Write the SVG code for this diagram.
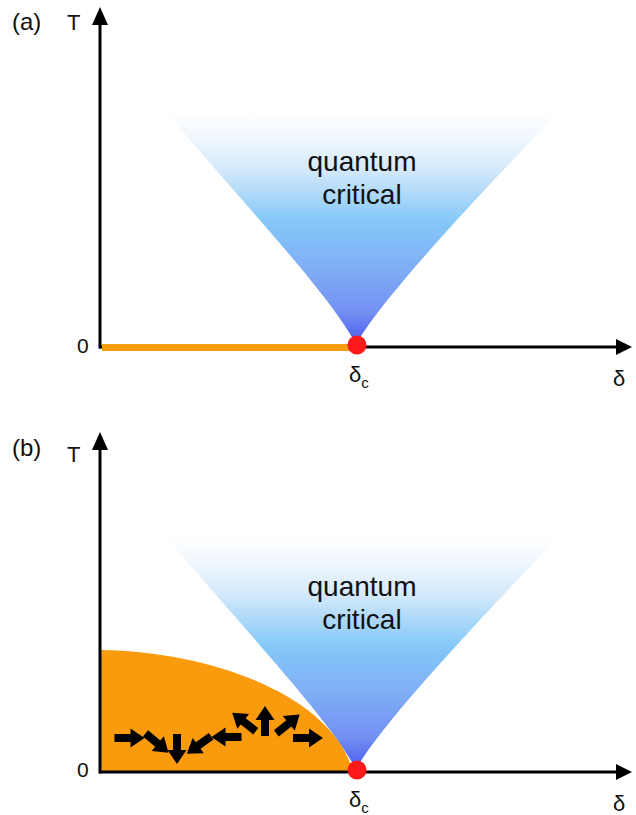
<svg xmlns="http://www.w3.org/2000/svg" width="636" height="815" viewBox="0 0 636 815">
<style>
text{font-family:"Liberation Sans",Arial,sans-serif;fill:#111}
.lbl{font-size:24px}
.t{font-size:22px}
.z{font-size:21px}
.d{font-size:22px}
.sub{font-size:15px}
.qc{font-size:28px;text-anchor:middle}
.ax{stroke:#000;stroke-width:3;fill:none}
.head{fill:#000}
.orange{fill:#f99b0c}
.dot{fill:#ff1a1a}
.spin{fill:#000}
</style>
<defs>
<linearGradient id="cone" gradientUnits="userSpaceOnUse" x1="0" y1="112" x2="0" y2="344">
<stop offset="0" stop-color="#ffffff"/>
<stop offset="0.12" stop-color="#eef6fd"/>
<stop offset="0.25" stop-color="#d3e9fb"/>
<stop offset="0.47" stop-color="#84c8f8"/>
<stop offset="0.7" stop-color="#7eaaf5"/>
<stop offset="0.86" stop-color="#7390f2"/>
<stop offset="1" stop-color="#4c5cef"/>
</linearGradient>
<polygon id="arr" points="-15,-4 1,-4 1,-9.5 15,0 1,9.5 1,4 -15,4"/>
</defs>

<g id="panel-a">
<g id="cone-a"><path d="M356,344 C330,295 245,205 166,112 L558,112 C470,205 385,295 356,344 Z" fill="url(#cone)"/></g>
<g id="label-qc-a"><text class="qc" x="362" y="171">quantum</text><text class="qc" x="362" y="204">critical</text></g>
<g id="axes-a">
<line class="ax" x1="100" y1="348.5" x2="100" y2="22"/>
<polygon class="head" points="100,7 108,25 92,25"/>
<line class="ax" x1="99" y1="347" x2="618" y2="347"/>
<polygon class="head" points="632,347 616,339 616,355"/>
</g>
<g id="ground-a"><line x1="102" y1="347.5" x2="352" y2="347.5" stroke="#f99b0c" stroke-width="7"/></g>
<g id="qcp-a"><circle class="dot" cx="357" cy="345" r="9.5"/></g>
<text class="lbl" x="12" y="30">(a)</text>
<text class="t" x="67" y="30">T</text>
<text class="z" x="77" y="353">0</text>
<text class="d" x="349" y="382">δ<tspan class="sub" dy="6">c</tspan></text>
<text class="d" x="613" y="386">δ</text>
</g>

<g id="panel-b" transform="translate(0,425)">
<g id="cone-b"><path d="M356,344 C330,295 245,205 166,112 L558,112 C470,205 385,295 356,344 Z" fill="url(#cone)"/></g>
<g id="label-qc-b"><text class="qc" x="362" y="171">quantum</text><text class="qc" x="362" y="204">critical</text></g>
<g id="dome-b"><path class="orange" d="M101,225 C220,227 335,275 353,347.5 L101,347.5 Z"/></g>
<g id="spins-b">
<use href="#arr" class="spin" transform="translate(129.5,313)"/>
<use href="#arr" class="spin" transform="translate(157,318) rotate(40)"/>
<use href="#arr" class="spin" transform="translate(177,324) rotate(90)"/>
<use href="#arr" class="spin" transform="translate(199,320) rotate(144)"/>
<use href="#arr" class="spin" transform="translate(226.5,312) rotate(180)"/>
<use href="#arr" class="spin" transform="translate(244,297) rotate(218)"/>
<use href="#arr" class="spin" transform="translate(265,296) rotate(-90)"/>
<use href="#arr" class="spin" transform="translate(288,299) rotate(-39)"/>
<use href="#arr" class="spin" transform="translate(308,313)"/>
</g>
<g id="axes-b">
<line class="ax" x1="100" y1="348.5" x2="100" y2="22"/>
<polygon class="head" points="100,7 108,25 92,25"/>
<line class="ax" x1="99" y1="347" x2="618" y2="347"/>
<polygon class="head" points="632,347 616,339 616,355"/>
</g>
<g id="qcp-b"><circle class="dot" cx="357" cy="345" r="9.5"/></g>
<text class="lbl" x="12" y="31">(b)</text>
<text class="t" x="67" y="37">T</text>
<text class="z" x="77" y="352">0</text>
<text class="d" x="349" y="382">δ<tspan class="sub" dy="6">c</tspan></text>
<text class="d" x="613" y="386">δ</text>
</g>
</svg>
